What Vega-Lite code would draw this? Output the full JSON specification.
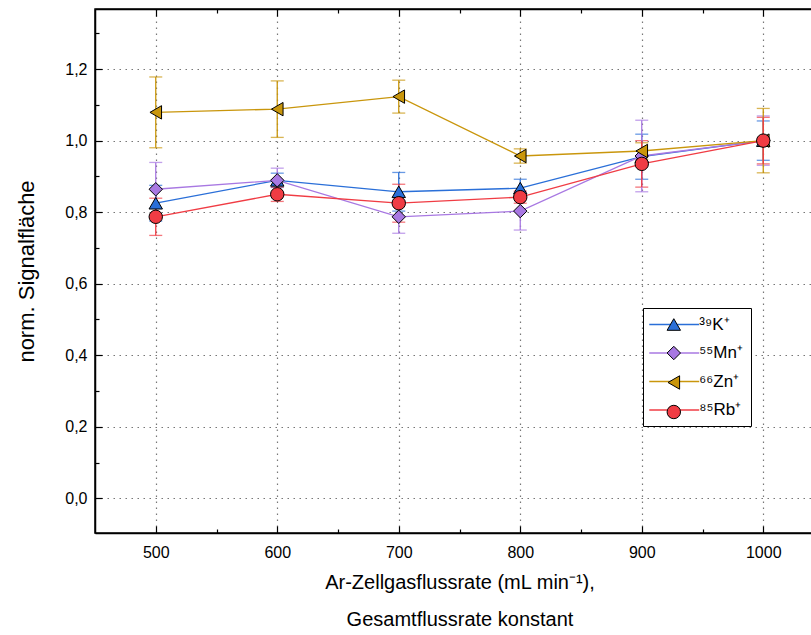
{
  "$schema": "https://vega.github.io/schema/vega-lite/v6.json",
  "width": 729,
  "height": 524,
  "autosize": {"type": "none"},
  "padding": {"left": 95, "top": 9, "right": 0, "bottom": 102},
  "background": "white",
  "config": {
    "view": {"stroke": "black", "strokeWidth": 1.5},
    "font": "Liberation Sans, sans-serif",
    "axis": {
      "domainColor": "black",
      "domainWidth": 1.5,
      "tickColor": "black",
      "tickWidth": 1.2,
      "labelColor": "black",
      "labelFontSize": 16,
      "titleColor": "black",
      "titleFontSize": 20,
      "titleFontWeight": "normal",
      "gridColor": "#777777",
      "gridDash": [1.5, 4.5],
      "gridWidth": 1.2
    }
  },
  "data": {
    "values": [
      {"ion": "³⁹K⁺", "x": 500, "v": 0.825, "e": 0.05},
      {"ion": "³⁹K⁺", "x": 600, "v": 0.889, "e": 0.02},
      {"ion": "³⁹K⁺", "x": 700, "v": 0.857, "e": 0.054},
      {"ion": "³⁹K⁺", "x": 800, "v": 0.867, "e": 0.025},
      {"ion": "³⁹K⁺", "x": 900, "v": 0.955, "e": 0.063},
      {"ion": "³⁹K⁺", "x": 1000, "v": 1.0, "e": 0.055},
      {"ion": "⁵⁵Mn⁺", "x": 500, "v": 0.864, "e": 0.075},
      {"ion": "⁵⁵Mn⁺", "x": 600, "v": 0.889, "e": 0.034},
      {"ion": "⁵⁵Mn⁺", "x": 700, "v": 0.787, "e": 0.046},
      {"ion": "⁵⁵Mn⁺", "x": 800, "v": 0.803, "e": 0.053},
      {"ion": "⁵⁵Mn⁺", "x": 900, "v": 0.957, "e": 0.1},
      {"ion": "⁵⁵Mn⁺", "x": 1000, "v": 1.0, "e": 0.069},
      {"ion": "⁶⁶Zn⁺", "x": 500, "v": 1.079, "e": 0.099},
      {"ion": "⁶⁶Zn⁺", "x": 600, "v": 1.088, "e": 0.079},
      {"ion": "⁶⁶Zn⁺", "x": 700, "v": 1.123, "e": 0.046},
      {"ion": "⁶⁶Zn⁺", "x": 800, "v": 0.957, "e": 0.02},
      {"ion": "⁶⁶Zn⁺", "x": 900, "v": 0.971, "e": 0.023},
      {"ion": "⁶⁶Zn⁺", "x": 1000, "v": 1.0, "e": 0.09},
      {"ion": "⁸⁵Rb⁺", "x": 500, "v": 0.787, "e": 0.052},
      {"ion": "⁸⁵Rb⁺", "x": 600, "v": 0.85, "e": 0.02},
      {"ion": "⁸⁵Rb⁺", "x": 700, "v": 0.825, "e": 0.053},
      {"ion": "⁸⁵Rb⁺", "x": 800, "v": 0.842, "e": 0.017},
      {"ion": "⁸⁵Rb⁺", "x": 900, "v": 0.935, "e": 0.065},
      {"ion": "⁸⁵Rb⁺", "x": 1000, "v": 1.0, "e": 0.065}
    ]
  },
  "layer": [
    {
      "mark": {"type": "errorbar", "ticks": {"size": 13, "thickness": 1.3}, "thickness": 1.3},
      "encoding": {
        "x": {
          "field": "x", "type": "quantitative",
          "scale": {"domain": [450, 1050], "nice": false, "zero": false},
          "axis": {
            "orient": "bottom",
            "title": ["Ar-Zellgasflussrate (mL min⁻¹),", "Gesamtflussrate konstant"],
            "titleLineHeight": 37,
            "titlePadding": 12,
            "values": [500, 550, 600, 650, 700, 750, 800, 850, 900, 950, 1000, 1050],
            "labelExpr": "datum.value % 100 === 0 ? format(datum.value, 'd') : ''",
            "tickSize": {"condition": {"test": "datum.value % 100 === 0", "value": -7}, "value": -4},
            "labelPadding": 18,
            "grid": true,
            "gridOpacity": {"condition": {"test": "datum.value % 100 === 0", "value": 1}, "value": 0}
          }
        },
        "y": {
          "field": "v", "type": "quantitative",
          "scale": {"domain": [-0.097, 1.368], "nice": false, "zero": false},
          "axis": {
            "orient": "left",
            "title": "norm. Signalfläche",
            "titleFontSize": 22,
            "titlePadding": 26,
            "values": [0, 0.1, 0.2, 0.3, 0.4, 0.5, 0.6, 0.7, 0.8, 0.9, 1.0, 1.1, 1.2, 1.3],
            "labelExpr": "round(datum.value * 10) % 2 === 0 ? replace(format(datum.value, '.1f'), '.', ',') : ''",
            "tickSize": {"condition": {"test": "round(datum.value * 10) % 2 === 0", "value": -7}, "value": -4},
            "labelPadding": 15,
            "grid": true,
            "gridOpacity": {"condition": {"test": "round(datum.value * 10) % 2 === 0", "value": 1}, "value": 0}
          }
        },
        "yError": {"field": "e"},
        "color": {
          "field": "ion", "type": "nominal",
          "scale": {"domain": ["³⁹K⁺", "⁵⁵Mn⁺", "⁶⁶Zn⁺", "⁸⁵Rb⁺"], "range": ["#2a6fd8", "#a878e2", "#c9960c", "#f03c44"]},
          "legend": null
        }
      }
    },
    {
      "mark": {"type": "line", "strokeWidth": 1.3},
      "encoding": {
        "x": {
          "field": "x", "type": "quantitative",
          "scale": {"domain": [450, 1050], "nice": false, "zero": false},
          "axis": {
            "orient": "top",
            "title": null,
            "values": [500, 550, 600, 650, 700, 750, 800, 850, 900, 950, 1000, 1050],
            "labels": false,
            "tickSize": {"condition": {"test": "datum.value % 100 === 0", "value": -7}, "value": -4},
            "grid": false
          }
        },
        "y": {
          "field": "v", "type": "quantitative",
          "scale": {"domain": [-0.097, 1.368], "nice": false, "zero": false},
          "axis": null
        },
        "color": {
          "field": "ion", "type": "nominal",
          "scale": {"domain": ["³⁹K⁺", "⁵⁵Mn⁺", "⁶⁶Zn⁺", "⁸⁵Rb⁺"], "range": ["#2a6fd8", "#a878e2", "#c9960c", "#f03c44"]},
          "legend": {
            "orient": "none",
            "legendX": 548,
            "legendY": 299,
            "title": null,
            "symbolType": "M-4,0H4",
            "symbolSize": 156,
            "symbolStrokeWidth": 1.3,
            "symbolOffset": 14.75,
            "labelFontSize": 17,
            "labelColor": "black",
            "labelOffset": 16.5,
            "rowPadding": 10.5,
            "padding": 8,
            "strokeColor": "black",
            "fillColor": "white"
          }
        }
      }
    },
    {
      "mark": {"type": "point", "filled": true, "size": 180, "stroke": "black", "strokeWidth": 1, "opacity": 1},
      "encoding": {
        "x": {
          "field": "x", "type": "quantitative",
          "scale": {"domain": [450, 1050], "nice": false, "zero": false},
          "axis": null
        },
        "y": {
          "field": "v", "type": "quantitative",
          "scale": {"domain": [-0.097, 1.368], "nice": false, "zero": false},
          "axis": null
        },
        "color": {
          "field": "ion", "type": "nominal",
          "scale": {"domain": ["³⁹K⁺", "⁵⁵Mn⁺", "⁶⁶Zn⁺", "⁸⁵Rb⁺"], "range": ["#2a6fd8", "#a878e2", "#c9960c", "#f03c44"]},
          "legend": {
            "orient": "none",
            "legendX": 548,
            "legendY": 299,
            "title": null,
            "symbolSize": 180,
            "symbolStrokeColor": "black",
            "symbolStrokeWidth": 1,
            "symbolOffset": 14.3,
            "labelFontSize": 17,
            "labelExpr": "' '",
            "labelColor": "transparent",
            "labelOffset": 5,
            "rowPadding": 10.5,
            "padding": 8
          }
        },
        "shape": {
          "field": "ion", "type": "nominal",
          "scale": {"domain": ["³⁹K⁺", "⁵⁵Mn⁺", "⁶⁶Zn⁺", "⁸⁵Rb⁺"], "range": ["triangle-up", "diamond", "triangle-left", "circle"]},
          "legend": {
            "orient": "none",
            "legendX": 548,
            "legendY": 299,
            "title": null,
            "symbolSize": 180,
            "symbolStrokeColor": "black",
            "symbolStrokeWidth": 1,
            "symbolOffset": 14.3,
            "labelFontSize": 17,
            "labelExpr": "' '",
            "labelColor": "transparent",
            "labelOffset": 5,
            "rowPadding": 10.5,
            "padding": 8
          }
        }
      }
    }
  ],
  "resolve": {
    "legend": {"color": "independent", "shape": "independent"},
    "axis": {"x": "independent", "y": "independent"}
  }
}
